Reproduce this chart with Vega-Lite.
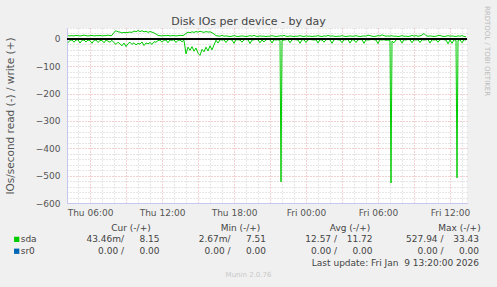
{
"$schema":"https://vega.github.io/schema/vega-lite/v6.json",
"width":400,"height":175,
"autosize":{"type":"none"},
"padding":{"left":67,"top":28,"right":30,"bottom":84},
"background":"#f0f0f0",
"config":{"view":{"fill":"white","stroke":null},"font":"DejaVu Sans"},
"datasets":{
"io":[
{"t":"2026-01-08T04:10","w":12,"r":-14},{"t":"2026-01-08T04:20","w":11,"r":-5},{"t":"2026-01-08T04:30","w":12,"r":-4},{"t":"2026-01-08T04:40","w":11,"r":-12},{"t":"2026-01-08T04:50","w":13,"r":-4},{"t":"2026-01-08T05:00","w":12,"r":-3},{"t":"2026-01-08T05:10","w":11,"r":-15},{"t":"2026-01-08T05:20","w":12,"r":-5},{"t":"2026-01-08T05:30","w":14,"r":-4},{"t":"2026-01-08T05:40","w":12,"r":-11},{"t":"2026-01-08T05:50","w":11,"r":-4},{"t":"2026-01-08T06:00","w":12,"r":-6},{"t":"2026-01-08T06:10","w":13,"r":-16},{"t":"2026-01-08T06:20","w":11,"r":-5},{"t":"2026-01-08T06:30","w":12,"r":-4},{"t":"2026-01-08T06:40","w":12,"r":-13},{"t":"2026-01-08T06:50","w":13,"r":-6},{"t":"2026-01-08T07:00","w":11,"r":-5},{"t":"2026-01-08T07:10","w":12,"r":-14},{"t":"2026-01-08T07:20","w":12,"r":-4},{"t":"2026-01-08T07:30","w":14,"r":-8},{"t":"2026-01-08T07:40","w":12,"r":-12},{"t":"2026-01-08T07:50","w":13,"r":-5},
{"t":"2026-01-08T08:00","w":24,"r":-14},{"t":"2026-01-08T08:10","w":30,"r":-20},{"t":"2026-01-08T08:20","w":26,"r":-12},{"t":"2026-01-08T08:30","w":25,"r":-18},{"t":"2026-01-08T08:40","w":22,"r":-25},{"t":"2026-01-08T08:50","w":24,"r":-15},{"t":"2026-01-08T09:00","w":23,"r":-28},{"t":"2026-01-08T09:10","w":24,"r":-17},{"t":"2026-01-08T09:20","w":25,"r":-12},{"t":"2026-01-08T09:30","w":24,"r":-20},{"t":"2026-01-08T09:40","w":29,"r":-14},{"t":"2026-01-08T09:50","w":26,"r":-22},{"t":"2026-01-08T10:00","w":31,"r":-16},{"t":"2026-01-08T10:10","w":27,"r":-19},{"t":"2026-01-08T10:20","w":30,"r":-11},{"t":"2026-01-08T10:30","w":26,"r":-24},{"t":"2026-01-08T10:40","w":28,"r":-15},{"t":"2026-01-08T10:50","w":24,"r":-18},{"t":"2026-01-08T11:00","w":27,"r":-13},{"t":"2026-01-08T11:10","w":25,"r":-20},{"t":"2026-01-08T11:20","w":22,"r":-10},{"t":"2026-01-08T11:30","w":18,"r":-12},
{"t":"2026-01-08T11:40","w":13,"r":-6},{"t":"2026-01-08T11:50","w":12,"r":-4},{"t":"2026-01-08T12:00","w":11,"r":-12},{"t":"2026-01-08T12:10","w":12,"r":-5},{"t":"2026-01-08T12:20","w":12,"r":-4},{"t":"2026-01-08T12:30","w":13,"r":-14},{"t":"2026-01-08T12:40","w":11,"r":-4},{"t":"2026-01-08T12:50","w":12,"r":-5},{"t":"2026-01-08T13:00","w":12,"r":-3},{"t":"2026-01-08T13:10","w":11,"r":-13},{"t":"2026-01-08T13:20","w":12,"r":-5},{"t":"2026-01-08T13:30","w":13,"r":-4},{"t":"2026-01-08T13:40","w":12,"r":-10},{"t":"2026-01-08T13:50","w":14,"r":-5},
{"t":"2026-01-08T14:00","w":20,"r":-55},{"t":"2026-01-08T14:10","w":25,"r":-30},{"t":"2026-01-08T14:20","w":23,"r":-42},{"t":"2026-01-08T14:30","w":26,"r":-28},{"t":"2026-01-08T14:40","w":24,"r":-45},{"t":"2026-01-08T14:50","w":27,"r":-33},{"t":"2026-01-08T15:00","w":25,"r":-52},{"t":"2026-01-08T15:10","w":28,"r":-60},{"t":"2026-01-08T15:20","w":26,"r":-38},{"t":"2026-01-08T15:30","w":24,"r":-47},{"t":"2026-01-08T15:40","w":27,"r":-30},{"t":"2026-01-08T15:50","w":25,"r":-44},{"t":"2026-01-08T16:00","w":26,"r":-25},{"t":"2026-01-08T16:10","w":23,"r":-40},{"t":"2026-01-08T16:20","w":18,"r":-22},
{"t":"2026-01-08T16:30","w":12,"r":-5},{"t":"2026-01-08T16:40","w":11,"r":-15},{"t":"2026-01-08T16:50","w":10,"r":-3},{"t":"2026-01-08T17:00","w":13,"r":-4},{"t":"2026-01-08T17:10","w":10,"r":-3},{"t":"2026-01-08T17:20","w":11,"r":-13},{"t":"2026-01-08T17:30","w":10,"r":-3},{"t":"2026-01-08T17:40","w":9,"r":-2},{"t":"2026-01-08T17:50","w":10,"r":-4},{"t":"2026-01-08T18:00","w":12,"r":-16},{"t":"2026-01-08T18:10","w":10,"r":-3},{"t":"2026-01-08T18:20","w":9,"r":-3},{"t":"2026-01-08T18:30","w":10,"r":-4},{"t":"2026-01-08T18:40","w":11,"r":-12},{"t":"2026-01-08T18:50","w":10,"r":-3},{"t":"2026-01-08T19:00","w":9,"r":-2},{"t":"2026-01-08T19:10","w":10,"r":-3},{"t":"2026-01-08T19:20","w":12,"r":-17},{"t":"2026-01-08T19:30","w":10,"r":-4},{"t":"2026-01-08T19:40","w":13,"r":-3},{"t":"2026-01-08T19:50","w":10,"r":-2},{"t":"2026-01-08T20:00","w":9,"r":-3},{"t":"2026-01-08T20:10","w":11,"r":-14},{"t":"2026-01-08T20:20","w":10,"r":-4},{"t":"2026-01-08T20:30","w":10,"r":-11},{"t":"2026-01-08T20:40","w":9,"r":-3},{"t":"2026-01-08T20:50","w":10,"r":-2},{"t":"2026-01-08T21:00","w":10,"r":-3},{"t":"2026-01-08T21:10","w":12,"r":-15},{"t":"2026-01-08T21:20","w":10,"r":-3},{"t":"2026-01-08T21:30","w":9,"r":-4},{"t":"2026-01-08T21:40","w":10,"r":-3},{"t":"2026-01-08T21:50","w":11,"r":-5},{"t":"2026-01-08T21:55","w":12,"r":-523},{"t":"2026-01-08T22:00","w":10,"r":-6},{"t":"2026-01-08T22:10","w":13,"r":-4},{"t":"2026-01-08T22:20","w":10,"r":-3},{"t":"2026-01-08T22:30","w":9,"r":-2},{"t":"2026-01-08T22:40","w":11,"r":-14},{"t":"2026-01-08T22:50","w":10,"r":-3},{"t":"2026-01-08T23:00","w":9,"r":-2},{"t":"2026-01-08T23:10","w":10,"r":-3},{"t":"2026-01-08T23:20","w":10,"r":-4},{"t":"2026-01-08T23:30","w":12,"r":-16},{"t":"2026-01-08T23:40","w":10,"r":-3},{"t":"2026-01-08T23:50","w":9,"r":-3},
{"t":"2026-01-09T00:00","w":11,"r":-13},{"t":"2026-01-09T00:10","w":10,"r":-3},{"t":"2026-01-09T00:20","w":10,"r":-2},{"t":"2026-01-09T00:30","w":9,"r":-3},{"t":"2026-01-09T00:40","w":10,"r":-4},{"t":"2026-01-09T00:50","w":10,"r":-3},{"t":"2026-01-09T01:00","w":12,"r":-15},{"t":"2026-01-09T01:10","w":10,"r":-3},{"t":"2026-01-09T01:20","w":9,"r":-4},{"t":"2026-01-09T01:30","w":11,"r":-12},{"t":"2026-01-09T01:40","w":10,"r":-3},{"t":"2026-01-09T01:50","w":13,"r":-2},{"t":"2026-01-09T02:00","w":10,"r":-3},{"t":"2026-01-09T02:10","w":11,"r":-16},{"t":"2026-01-09T02:20","w":10,"r":-3},{"t":"2026-01-09T02:30","w":9,"r":-2},{"t":"2026-01-09T02:40","w":10,"r":-3},{"t":"2026-01-09T02:50","w":10,"r":-4},{"t":"2026-01-09T03:00","w":12,"r":-14},{"t":"2026-01-09T03:10","w":10,"r":-3},{"t":"2026-01-09T03:20","w":9,"r":-3},{"t":"2026-01-09T03:30","w":10,"r":-2},{"t":"2026-01-09T03:40","w":11,"r":-15},{"t":"2026-01-09T03:50","w":10,"r":-3},{"t":"2026-01-09T04:00","w":10,"r":-4},{"t":"2026-01-09T04:10","w":12,"r":-13},{"t":"2026-01-09T04:20","w":10,"r":-3},{"t":"2026-01-09T04:30","w":9,"r":-2},{"t":"2026-01-09T04:40","w":10,"r":-3},{"t":"2026-01-09T04:50","w":11,"r":-16},{"t":"2026-01-09T05:00","w":10,"r":-3},{"t":"2026-01-09T05:10","w":14,"r":-4},{"t":"2026-01-09T05:20","w":12,"r":-3},{"t":"2026-01-09T05:30","w":10,"r":-2},{"t":"2026-01-09T05:40","w":9,"r":-3},{"t":"2026-01-09T05:50","w":10,"r":-4},{"t":"2026-01-09T06:00","w":12,"r":-17},{"t":"2026-01-09T06:10","w":11,"r":-3},{"t":"2026-01-09T06:20","w":15,"r":-4},{"t":"2026-01-09T06:30","w":12,"r":-3},{"t":"2026-01-09T06:40","w":10,"r":-5},{"t":"2026-01-09T06:50","w":11,"r":-4},{"t":"2026-01-09T07:00","w":10,"r":-6},{"t":"2026-01-09T07:05","w":12,"r":-527},{"t":"2026-01-09T07:10","w":11,"r":-8},{"t":"2026-01-09T07:20","w":10,"r":-14},{"t":"2026-01-09T07:30","w":10,"r":-3},{"t":"2026-01-09T07:40","w":9,"r":-2},{"t":"2026-01-09T07:50","w":10,"r":-3},{"t":"2026-01-09T08:00","w":12,"r":-15},{"t":"2026-01-09T08:10","w":10,"r":-3},{"t":"2026-01-09T08:20","w":10,"r":-4},{"t":"2026-01-09T08:30","w":9,"r":-2},{"t":"2026-01-09T08:40","w":10,"r":-3},{"t":"2026-01-09T08:50","w":13,"r":-14},{"t":"2026-01-09T09:00","w":10,"r":-3},{"t":"2026-01-09T09:10","w":12,"r":-4},{"t":"2026-01-09T09:20","w":10,"r":-3},{"t":"2026-01-09T09:30","w":11,"r":-13},{"t":"2026-01-09T09:40","w":14,"r":-3},{"t":"2026-01-09T09:50","w":20,"r":-4},{"t":"2026-01-09T10:00","w":12,"r":-3},{"t":"2026-01-09T10:10","w":10,"r":-2},{"t":"2026-01-09T10:20","w":11,"r":-15},{"t":"2026-01-09T10:30","w":10,"r":-3},{"t":"2026-01-09T10:40","w":9,"r":-4},{"t":"2026-01-09T10:50","w":10,"r":-3},{"t":"2026-01-09T11:00","w":12,"r":-12},{"t":"2026-01-09T11:10","w":13,"r":-3},{"t":"2026-01-09T11:20","w":10,"r":-2},{"t":"2026-01-09T11:30","w":9,"r":-3},{"t":"2026-01-09T11:40","w":10,"r":-4},{"t":"2026-01-09T11:50","w":12,"r":-18},{"t":"2026-01-09T12:00","w":10,"r":-4},{"t":"2026-01-09T12:10","w":11,"r":-16},{"t":"2026-01-09T12:20","w":10,"r":-3},{"t":"2026-01-09T12:30","w":9,"r":-5},{"t":"2026-01-09T12:35","w":10,"r":-508},{"t":"2026-01-09T12:40","w":11,"r":-6},{"t":"2026-01-09T12:50","w":10,"r":-3},{"t":"2026-01-09T13:00","w":12,"r":-14},{"t":"2026-01-09T13:10","w":9,"r":-3},{"t":"2026-01-09T13:20","w":8,"r":-4}
],
"legend":[
{"k":"head","c":"Cur","row":"head","txt":"Cur (-/+)"},{"k":"head","c":"Min","row":"head","txt":"Min (-/+)"},{"k":"head","c":"Avg","row":"head","txt":"Avg (-/+)"},{"k":"head","c":"Max","row":"head","txt":"Max (-/+)"},
{"k":"name","c":"name","row":"sda","txt":"sda"},{"k":"name","c":"name","row":"sr0","txt":"sr0"},
{"k":"val","c":"Cur-r","row":"sda","txt":"43.46m/"},{"k":"val","c":"Cur-w","row":"sda","txt":"8.15"},{"k":"val","c":"Min-r","row":"sda","txt":"2.67m/"},{"k":"val","c":"Min-w","row":"sda","txt":"7.51"},{"k":"val","c":"Avg-r","row":"sda","txt":"12.57 /"},{"k":"val","c":"Avg-w","row":"sda","txt":"11.72"},{"k":"val","c":"Max-r","row":"sda","txt":"527.94 /"},{"k":"val","c":"Max-w","row":"sda","txt":"33.43"},
{"k":"val","c":"Cur-r","row":"sr0","txt":"0.00 /"},{"k":"val","c":"Cur-w","row":"sr0","txt":"0.00"},{"k":"val","c":"Min-r","row":"sr0","txt":"0.00 /"},{"k":"val","c":"Min-w","row":"sr0","txt":"0.00"},{"k":"val","c":"Avg-r","row":"sr0","txt":"0.00 /"},{"k":"val","c":"Avg-w","row":"sr0","txt":"0.00"},{"k":"val","c":"Max-r","row":"sr0","txt":"0.00 /"},{"k":"val","c":"Max-w","row":"sr0","txt":"0.00"},
{"k":"val","c":"Max-w","row":"update","txt":"Last update: Fri Jan\u00a0 9 13:20:00 2026"},
{"k":"foot","c":"center","row":"munin","txt":"Munin 2.0.76"},
{"k":"title","c":"center","row":"title","txt":"Disk IOs per device - by day"},
{"k":"rrd","c":"right","row":"rrd","txt":"RRDTOOL / TOBI OETIKER"}
]
},
"resolve":{"scale":{"x":"independent","y":"independent"}},
"layer":[
{"data":{"name":"io"},
 "transform":[{"fold":["w","r"],"as":["dir","v"]}],
 "layer":[
  {"mark":{"type":"line","color":"#00CC00","strokeWidth":1},
   "encoding":{
    "x":{"field":"t","type":"temporal","scale":{"domain":["2026-01-08T04:05","2026-01-09T13:25"]},
     "axis":{"grid":true,"gridColor":{"condition":{"test":"hours(datum.value) % 3 === 0","value":"#e7a3a3"},"value":"#cdcdcd"},"gridDash":[1,2],"tickCount":34,"labelExpr":"hours(datum.value) % 6 === 0 ? timeFormat(datum.value, '%a %H:%M') : ''","labelOverlap":false,"labelFlush":false,"labelFontSize":9,"labelColor":"#555555","labelPadding":5,"ticks":false,"tickSize":0,"domainColor":"#c6c6f2","title":null}},
    "y":{"field":"v","type":"quantitative","scale":{"domain":[-600,40],"nice":false,"zero":false},
     "axis":{"grid":true,"gridColor":{"condition":{"test":"datum.value % 100 === 0","value":"#e7a3a3"},"value":"#cdcdcd"},"gridDash":[1,2],"tickCount":32,"labelExpr":"datum.value % 100 === 0 && datum.value <= 0 ? datum.label : ''","labelOverlap":false,"labelFontSize":9,"labelColor":"#555555","labelPadding":7,"ticks":false,"tickSize":0,"domainColor":"#c6c6f2","minExtent":28,"maxExtent":28,
      "title":"IOs/second read (-) / write (+)","titleFontSize":10.5,"titleFontWeight":"normal","titleColor":"#555555","titlePadding":24}},
    "detail":{"field":"dir"}}},
  {"mark":{"type":"rule","color":"#000000","strokeWidth":1.2},
   "encoding":{"y":{"datum":0,"type":"quantitative"}}}
 ]},
{"data":{"name":"legend"},"transform":[{"filter":"datum.k == 'name'"}],
 "mark":{"type":"square","size":28,"opacity":1},
 "encoding":{
  "x":{"field":"c","type":"nominal","scale":{"type":"point","domain":["name","Cur"],"range":[-50.3,64],"padding":0},"axis":null},
  "y":{"field":"row","type":"nominal","scale":{"type":"point","domain":["head","sda","sr0","update","munin"],"range":[199.5,247],"padding":0},"axis":null},
  "color":{"field":"row","type":"nominal","scale":{"domain":["sda","sr0"],"range":["#00CC00","#0066B3"]},"legend":null}}},
{"data":{"name":"legend"},"transform":[{"filter":"datum.k == 'name'"}],
 "mark":{"type":"text","align":"left","dx":4,"fontSize":9,"color":"#444444"},
 "encoding":{
  "x":{"field":"c","type":"nominal","scale":{"type":"point","domain":["name","Cur"],"range":[-50.3,64],"padding":0},"axis":null},
  "y":{"field":"row","type":"nominal","scale":{"type":"point","domain":["head","sda","sr0","update","munin"],"range":[199.5,247],"padding":0},"axis":null},
  "text":{"field":"txt"}}},
{"data":{"name":"legend"},"transform":[{"filter":"datum.k == 'head'"}],
 "mark":{"type":"text","align":"center","fontSize":9,"color":"#444444"},
 "encoding":{
  "x":{"field":"c","type":"nominal","scale":{"type":"point","domain":["Cur","Min","Avg","Max"],"range":[64,392.5],"padding":0},"axis":null},
  "y":{"field":"row","type":"nominal","scale":{"type":"point","domain":["head","sda","sr0","update","munin"],"range":[199.5,247],"padding":0},"axis":null},
  "text":{"field":"txt"}}},
{"data":{"name":"legend"},"transform":[{"filter":"datum.k == 'val'"}],
 "mark":{"type":"text","align":"right","fontSize":9,"color":"#444444"},
 "encoding":{
  "x":{"field":"c","type":"nominal","scale":{"type":"point","domain":["Cur-r","Cur-w","s1","Min-r","Min-w","s2","Avg-r","Avg-w","s3","Max-r","Max-w"],"range":[57,412],"padding":0},"axis":null},
  "y":{"field":"row","type":"nominal","scale":{"type":"point","domain":["head","sda","sr0","update","munin"],"range":[199.5,247],"padding":0},"axis":null},
  "text":{"field":"txt"}}},
{"data":{"name":"legend"},"transform":[{"filter":"datum.k == 'foot'"}],
 "mark":{"type":"text","align":"center","fontSize":7,"color":"#c8c8c8"},
 "encoding":{
  "x":{"field":"c","type":"nominal","scale":{"type":"point","domain":["center","right"],"range":[181.5,420],"padding":0},"axis":null},
  "y":{"field":"row","type":"nominal","scale":{"type":"point","domain":["head","sda","sr0","update","munin"],"range":[199.5,247],"padding":0},"axis":null},
  "text":{"field":"txt"}}},
{"data":{"name":"legend"},"transform":[{"filter":"datum.k == 'title'"}],
 "mark":{"type":"text","align":"center","fontSize":11,"color":"#444444"},
 "encoding":{
  "x":{"field":"c","type":"nominal","scale":{"type":"point","domain":["center","right"],"range":[181.5,420],"padding":0},"axis":null},
  "y":{"field":"row","type":"nominal","scale":{"type":"point","domain":["title","rrd"],"range":[-6,23],"padding":0},"axis":null},
  "text":{"field":"txt"}}},
{"data":{"name":"legend"},"transform":[{"filter":"datum.k == 'rrd'"}],
 "mark":{"type":"text","align":"center","angle":90,"fontSize":7,"color":"#bbbbbb"},
 "encoding":{
  "x":{"field":"c","type":"nominal","scale":{"type":"point","domain":["center","right"],"range":[181.5,420],"padding":0},"axis":null},
  "y":{"field":"row","type":"nominal","scale":{"type":"point","domain":["title","rrd"],"range":[-6,23],"padding":0},"axis":null},
  "text":{"field":"txt"}}}
]
}
